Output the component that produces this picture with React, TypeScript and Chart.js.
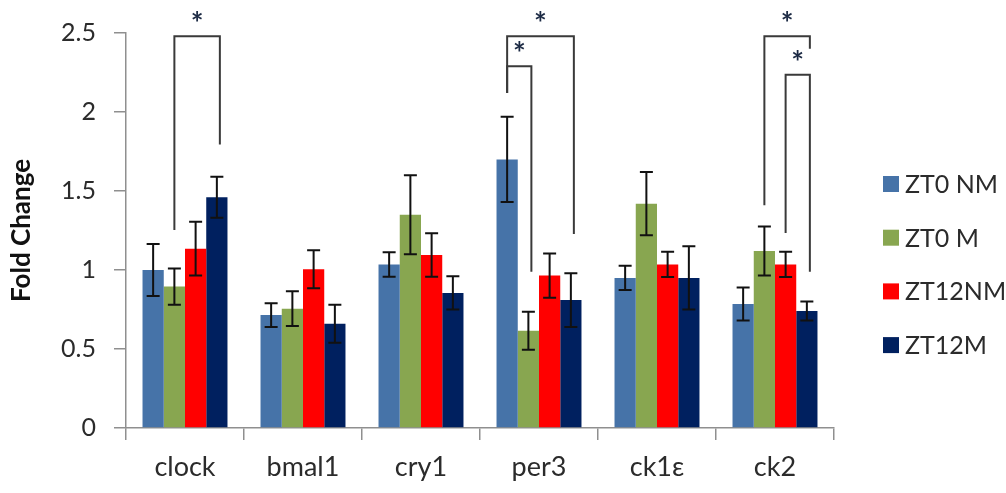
import React, { useEffect, useRef } from 'react';
import { Chart, registerables } from 'chart.js';

Chart.register(...registerables);

const categories = ['clock', 'bmal1', 'cry1', 'per3', 'ck1ε', 'ck2'];
const seriesLabels = ['ZT0 NM', 'ZT0 M', 'ZT12NM', 'ZT12M'];
const seriesColors = ['#4673A8', '#88A650', '#FF0000', '#00205F'];

const zt0nm = [1.0, 0.715, 1.035, 1.70, 0.95, 0.785];
const zt0nmErr = [0.165, 0.075, 0.077, 0.27, 0.077, 0.105];
const zt0m = [0.895, 0.755, 1.35, 0.615, 1.42, 1.12];
const zt0mErr = [0.115, 0.11, 0.25, 0.12, 0.2, 0.155];
const zt12nm = [1.135, 1.005, 1.095, 0.965, 1.035, 1.035];
const zt12nmErr = [0.17, 0.12, 0.137, 0.14, 0.08, 0.08];
const zt12m = [1.46, 0.66, 0.855, 0.81, 0.95, 0.74];
const zt12mErr = [0.13, 0.12, 0.105, 0.17, 0.2, 0.06];

const seriesValues = [zt0nm, zt0m, zt12nm, zt12m];
const seriesErrors = [zt0nmErr, zt0mErr, zt12nmErr, zt12mErr];

const yMin = 0;
const yMax = 2.5;
const yStep = 0.5;
const yTickValues = [0, 0.5, 1, 1.5, 2, 2.5];
const yTickLabels = ['0', '0.5', '1', '1.5', '2', '2.5'];

// significance brackets: category index, from series, to series, top value, leg bottoms
const bracketCategory = [0, 3, 3, 5, 5];
const bracketFrom = [1, 0, 0, 1, 2];
const bracketTo = [3, 3, 1, 3, 3];
const bracketTop = [2.48, 2.48, 2.29, 2.48, 2.235];
const bracketFromBottom = [1.253, 2.12, 2.12, 1.41, 1.234];
const bracketToBottom = [1.795, 1.228, 0.989, 2.40, 0.989];
const bracketLabel = ['*', '*', '*', '*', '*'];

const FONT = 'Lato, "Open Sans", sans-serif';

const errorBarPlugin = {
  id: 'errorBars',
  afterDatasetsDraw(chart: any) {
    const ctx = chart.ctx;
    const yScale = chart.scales.y;
    ctx.save();
    ctx.strokeStyle = '#111111';
    ctx.lineWidth = 2;
    chart.data.datasets.forEach((ds: any, di: number) => {
      const meta = chart.getDatasetMeta(di);
      meta.data.forEach((bar: any, i: number) => {
        const v = seriesValues[di][i];
        const e = seriesErrors[di][i];
        const yT = yScale.getPixelForValue(v + e);
        const yB = yScale.getPixelForValue(v - e);
        const x = bar.x;
        const cap = 6.5;
        ctx.beginPath();
        ctx.moveTo(x, yT);
        ctx.lineTo(x, yB);
        ctx.moveTo(x - cap, yT);
        ctx.lineTo(x + cap, yT);
        ctx.moveTo(x - cap, yB);
        ctx.lineTo(x + cap, yB);
        ctx.stroke();
      });
    });
    ctx.restore();
  },
};

const bracketPlugin = {
  id: 'brackets',
  afterDatasetsDraw(chart: any) {
    const ctx = chart.ctx;
    const yScale = chart.scales.y;
    ctx.save();
    ctx.strokeStyle = '#3a3a3a';
    ctx.lineWidth = 2;
    ctx.lineJoin = 'miter';
    bracketCategory.forEach((c, k) => {
      const x1 = chart.getDatasetMeta(bracketFrom[k]).data[c].x;
      const x2 = chart.getDatasetMeta(bracketTo[k]).data[c].x + 3;
      const yt = yScale.getPixelForValue(bracketTop[k]);
      const y1 = yScale.getPixelForValue(bracketFromBottom[k]);
      const y2 = yScale.getPixelForValue(bracketToBottom[k]);
      ctx.beginPath();
      ctx.moveTo(x1, y1);
      ctx.lineTo(x1, yt);
      ctx.lineTo(x2, yt);
      ctx.lineTo(x2, y2);
      ctx.stroke();
      ctx.fillStyle = '#1c2a44';
      ctx.font = `bold 30px ${FONT}`;
      ctx.textAlign = 'center';
      ctx.textBaseline = 'middle';
      ctx.fillText(bracketLabel[k], (x1 + x2) / 2, yt - 12);
    });
    ctx.restore();
  },
};

const legendPlugin = {
  id: 'customLegend',
  afterDraw(chart: any) {
    const ctx = chart.ctx;
    const area = chart.chartArea;
    ctx.save();
    ctx.font = `25px ${FONT}`;
    ctx.textBaseline = 'middle';
    ctx.textAlign = 'left';
    const x0 = area.right + 49;
    const yStart = area.top + 151;
    const gap = 53.7;
    seriesLabels.forEach((lab, i) => {
      const y = yStart + i * gap;
      ctx.fillStyle = seriesColors[i];
      ctx.fillRect(x0, y - 8, 16, 16);
      ctx.fillStyle = '#2b2b2b';
      ctx.fillText(lab, x0 + 22, y + 1);
    });
    ctx.restore();
  },
};

export default function App() {
  const canvasRef = useRef<HTMLCanvasElement | null>(null);

  useEffect(() => {
    if (!canvasRef.current) return;
    const chart = new Chart(canvasRef.current, {
      type: 'bar',
      data: {
        labels: categories,
        datasets: seriesLabels.map((lab, i) => ({
          label: lab,
          data: seriesValues[i],
          backgroundColor: seriesColors[i],
          borderWidth: 0,
          categoryPercentage: 0.72,
          barPercentage: 1.0,
        })),
      },
      options: {
        responsive: true,
        maintainAspectRatio: false,
        animation: false,
        layout: { padding: { top: 31, right: 172, left: 0, bottom: 0 } },
        plugins: {
          legend: { display: false },
          tooltip: { enabled: false },
        },
        scales: {
          x: {
            grid: {
              display: true,
              drawOnChartArea: false,
              drawTicks: true,
              tickLength: 12,
              offset: true,
              color: '#8f8f8f',
              lineWidth: 1.5,
            },
            border: { display: true, color: '#8f8f8f', width: 1.5 },
            ticks: {
              color: '#2b2b2b',
              font: { family: FONT, size: 27 },
              padding: 11,
            },
            afterFit(scale: any) {
              scale.height = 65;
            },
          },
          y: {
            min: yMin,
            max: yMax,
            grid: {
              display: true,
              drawOnChartArea: false,
              drawTicks: true,
              tickLength: 12,
              color: '#8f8f8f',
              lineWidth: 1.5,
            },
            border: { display: true, color: '#8f8f8f', width: 1.5 },
            ticks: {
              stepSize: yStep,
              color: '#2b2b2b',
              font: { family: FONT, size: 25 },
              padding: 18,
              callback: (value: any) => {
                const idx = yTickValues.findIndex((t) => Math.abs(t - Number(value)) < 1e-9);
                return idx >= 0 ? yTickLabels[idx] : '';
              },
            },
            title: {
              display: true,
              text: 'Fold Change',
              color: '#111111',
              font: { family: FONT, size: 26, weight: 'bold' },
              padding: { top: 6, bottom: 0 },
            },
            afterFit(scale: any) {
              scale.width = 126;
            },
          },
        },
      },
      plugins: [errorBarPlugin, bracketPlugin, legendPlugin],
    });
    return () => chart.destroy();
  }, []);

  return (
    <div style={{ position: 'fixed', left: 0, top: 0, width: 1006, height: 493, background: '#ffffff' }}>
      <canvas ref={canvasRef} />
    </div>
  );
}
